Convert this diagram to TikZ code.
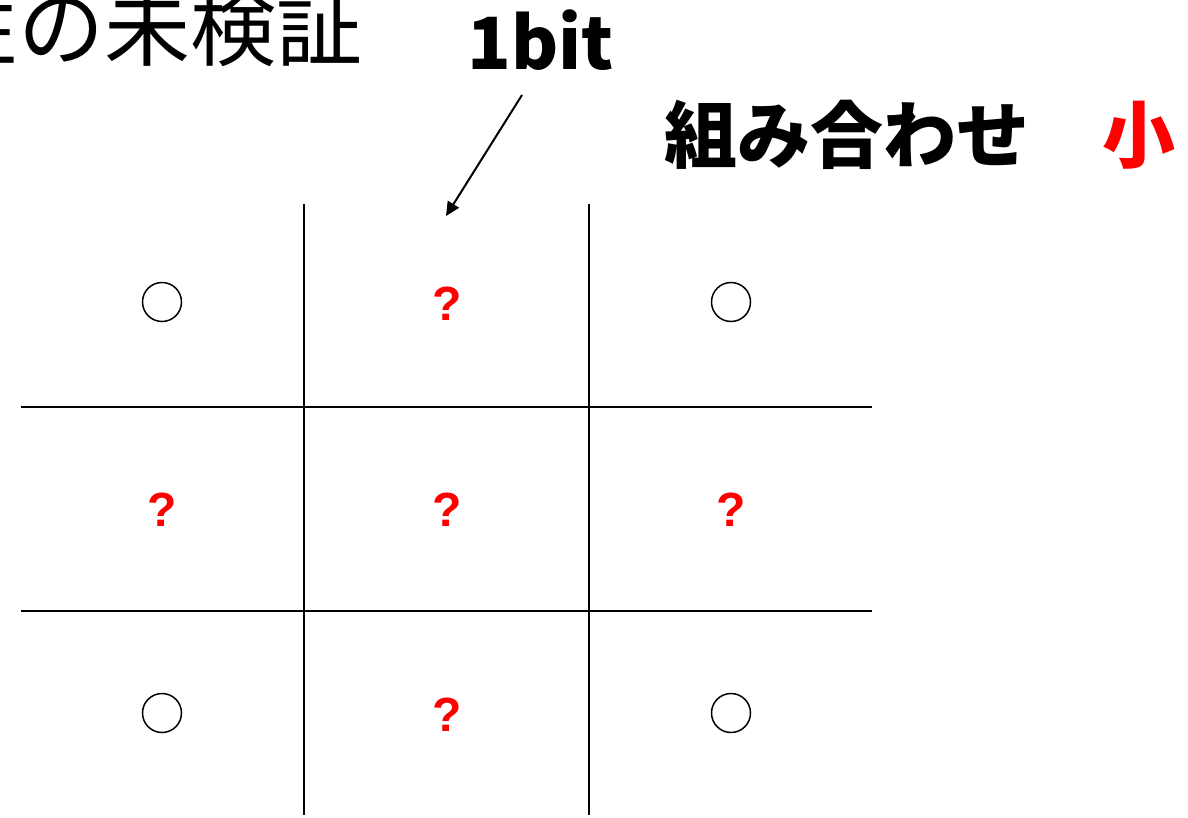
\documentclass[tikz,border=0pt]{standalone}
\usepackage{fontspec}
\setmainfont{Liberation Sans}
\newfontfamily\jpfont{Noto Sans CJK JP}
\usetikzlibrary{arrows.meta}
\definecolor{qred}{RGB}{255,0,0}
\begin{document}
\begin{tikzpicture}[x=1pt,y=-1pt,
  gridline/.style={line width=2.2pt,black},
  okmark/.style={circle,draw=black,line width=1.5pt,minimum size=39pt,inner sep=0pt},
  qmark/.style={anchor=base,inner sep=0pt,text=qred,font=\fontsize{48}{48}\selectfont\bfseries},
  pointer/.style={line width=2pt,-{Triangle[length=14pt,width=13pt]}}]
\useasboundingbox (0,0) rectangle (1188,818);
\clip (0,0) rectangle (1188,818);
% top-left text (cut off)
\node[anchor=base west,inner sep=0pt,font=\jpfont\fontsize{86}{86}\selectfont] (title) at (-68,60) {性の未検証};
% 1bit label
\node[anchor=base west,inner sep=0pt,font=\jpfont\fontsize{72}{72}\selectfont\bfseries] (bit) at (467,70) {1bit};
% combination label
\node[anchor=base west,inner sep=0pt,font=\jpfont\fontsize{73}{73}\selectfont\bfseries] (combo) at (664,163) {組み合わせ　\textcolor{qred}{小}};
% arrow
\coordinate (arrS) at (522,95);
\coordinate (arrE) at (446,216);
\draw[pointer] (arrS) -- (arrE);
% grid
\coordinate (v1t) at (304,204); \coordinate (v1b) at (304,815);
\coordinate (v2t) at (589,204); \coordinate (v2b) at (589,815);
\coordinate (h1l) at (21,407); \coordinate (h1r) at (872,407);
\coordinate (h2l) at (21,611); \coordinate (h2r) at (872,611);
\draw[gridline] (v1t) -- (v1b);
\draw[gridline] (v2t) -- (v2b);
\draw[gridline] (h1l) -- (h1r);
\draw[gridline] (h2l) -- (h2r);
% circles
\node[okmark] (c11) at (162,302) {};
\node[okmark] (c13) at (731,302) {};
\node[okmark] (c31) at (162,713) {};
\node[okmark] (c33) at (731,713) {};
% question marks
\node[qmark] (q12) at (447,320) {?};
\node[qmark] (q21) at (162,526) {?};
\node[qmark] (q22) at (447,526) {?};
\node[qmark] (q23) at (731,526) {?};
\node[qmark] (q32) at (447,731) {?};
\end{tikzpicture}
\end{document}
